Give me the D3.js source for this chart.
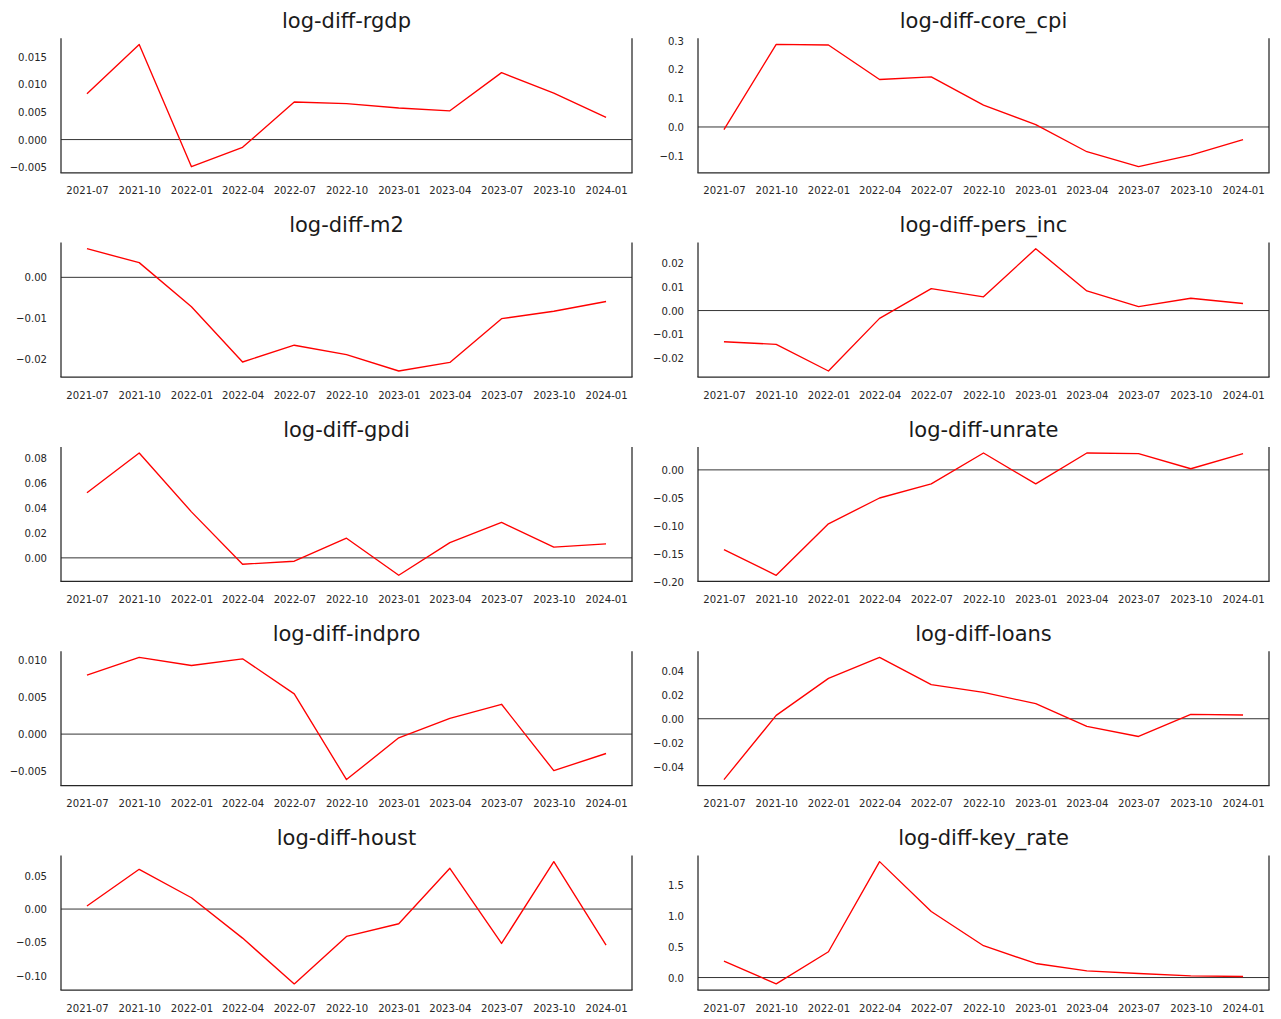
<!DOCTYPE html>
<html>
<head>
<meta charset="utf-8">
<script src="https://cdn.jsdelivr.net/npm/d3@7"></script>
<style>
  html, body { margin: 0; padding: 0; background: #ffffff; }
  svg { display: block; font-family: "DejaVu Sans", sans-serif; }
</style>
</head>
<body>
<script>
// Quarterly observation dates and their axis labels
const quarters = ["2021-07-01", "2021-10-01", "2022-01-01", "2022-04-01", "2022-07-01", "2022-10-01",
                  "2023-01-01", "2023-04-01", "2023-07-01", "2023-10-01", "2024-01-01"];
const quarterLabels = ["2021-07", "2021-10", "2022-01", "2022-04", "2022-07", "2022-10",
                       "2023-01", "2023-04", "2023-07", "2023-10", "2024-01"];

// Log-differenced series, one value per quarter
const rgdp    = [0.0083, 0.0172, -0.0049, -0.0014, 0.0068, 0.0065, 0.0057, 0.0052, 0.0121, 0.0084, 0.0040];
const coreCpi = [-0.009, 0.287, 0.285, 0.165, 0.174, 0.076, 0.008, -0.086, -0.138, -0.098, -0.044];
const m2      = [0.0070, 0.0036, -0.0072, -0.0207, -0.0166, -0.0189, -0.0229, -0.0208, -0.0101, -0.0083, -0.0059];
const persInc = [-0.0132, -0.0143, -0.0256, -0.0033, 0.0093, 0.0058, 0.0262, 0.0083, 0.0017, 0.0052, 0.0030];
const gpdi    = [0.0524, 0.0843, 0.0370, -0.0051, -0.0027, 0.0158, -0.0140, 0.0123, 0.0285, 0.0086, 0.0113];
const unrate  = [-0.142, -0.1875, -0.096, -0.050, -0.025, 0.030, -0.025, 0.030, 0.029, 0.002, 0.029];
const indpro  = [0.0079, 0.0103, 0.0092, 0.0101, 0.0054, -0.0061, -0.0005, 0.0021, 0.0040, -0.0049, -0.0026];
const loans   = [-0.0508, 0.0028, 0.0337, 0.0513, 0.0285, 0.0220, 0.0126, -0.0064, -0.0148, 0.0036, 0.0031];
const houst   = [0.0045, 0.0598, 0.0170, -0.0437, -0.1126, -0.0412, -0.0221, 0.0613, -0.0518, 0.0714, -0.0543];
const keyRate = [0.266, -0.103, 0.418, 1.88, 1.07, 0.516, 0.228, 0.109, 0.065, 0.027, 0.016];

// Panel titles and y tick values
const titles = ["log-diff-rgdp", "log-diff-core_cpi", "log-diff-m2", "log-diff-pers_inc", "log-diff-gpdi",
                "log-diff-unrate", "log-diff-indpro", "log-diff-loans", "log-diff-houst", "log-diff-key_rate"];
const rgdpTicks    = [-0.005, 0, 0.005, 0.010, 0.015];
const coreCpiTicks = [-0.1, 0, 0.1, 0.2, 0.3];
const m2Ticks      = [-0.02, -0.01, 0];
const persIncTicks = [-0.02, -0.01, 0, 0.01, 0.02];
const gpdiTicks    = [0, 0.02, 0.04, 0.06, 0.08];
const unrateTicks  = [-0.20, -0.15, -0.10, -0.05, 0];
const indproTicks  = [-0.005, 0, 0.005, 0.010];
const loansTicks   = [-0.04, -0.02, 0, 0.02, 0.04];
const houstTicks   = [-0.10, -0.05, 0, 0.05];
const keyRateTicks = [0, 0.5, 1.0, 1.5];

const panels = [
  { values: rgdp,    ticks: rgdpTicks,    fmt: ".3f" },
  { values: coreCpi, ticks: coreCpiTicks, fmt: ".1f" },
  { values: m2,      ticks: m2Ticks,      fmt: ".2f" },
  { values: persInc, ticks: persIncTicks, fmt: ".2f" },
  { values: gpdi,    ticks: gpdiTicks,    fmt: ".2f" },
  { values: unrate,  ticks: unrateTicks,  fmt: ".2f" },
  { values: indpro,  ticks: indproTicks,  fmt: ".3f" },
  { values: loans,   ticks: loansTicks,   fmt: ".2f" },
  { values: houst,   ticks: houstTicks,   fmt: ".2f" },
  { values: keyRate, ticks: keyRateTicks, fmt: ".1f" }
].map((p, i) => Object.assign(p, { title: titles[i] }));

// Figure geometry
const W = 1281, H = 1019;
const colLeft = [61, 698];
const axW = 571, axH = 134.5;
const rowTop0 = 38.3, rowStep = 204.3;
const tickFont = 11, tickSX = 0.92;
const ink = "#262626";

const dates = quarters.map(s => new Date(s + "T00:00:00Z"));

const svg = d3.select("body").append("svg")
  .attr("width", W).attr("height", H);

// Pad an extent by 5% on each side
function padded(lo, hi) {
  const m = (hi - lo) * 0.05;
  return [lo - m, hi + m];
}

panels.forEach((p, i) => {
  const col = i % 2, row = Math.floor(i / 2);
  const left = colLeft[col];
  const top = rowTop0 + row * rowStep;

  const x = d3.scaleUtc()
    .domain(padded(+dates[0], +dates[dates.length - 1]).map(t => new Date(t)))
    .range([0, axW]);
  const yExt = d3.extent(p.values.concat([0]));
  const y = d3.scaleLinear().domain(padded(yExt[0], yExt[1])).range([axH, 0]);

  const g = svg.append("g").attr("transform", `translate(${left},${top})`);

  // Title
  g.append("text")
    .attr("x", axW / 2).attr("y", -10.3)
    .attr("text-anchor", "middle")
    .attr("font-size", 21)
    .attr("fill", "#1a1a1a")
    .text(p.title);

  // Horizontal zero reference
  g.append("line")
    .attr("x1", 0).attr("x2", axW)
    .attr("y1", y(0)).attr("y2", y(0))
    .attr("stroke", "#000").attr("stroke-width", 0.8);

  // Series line
  const line = d3.line()
    .x((d, k) => x(dates[k]))
    .y(d => y(d));
  g.append("path")
    .datum(p.values)
    .attr("d", line)
    .attr("fill", "none")
    .attr("stroke", "#ff0000")
    .attr("stroke-width", 1.35)
    .attr("stroke-linejoin", "round");

  // Y axis labels
  const yAxis = g.append("g").call(
    d3.axisLeft(y).tickValues(p.ticks).tickFormat(d3.format(p.fmt)).tickSize(0).tickPadding(14)
  );
  yAxis.select(".domain").remove();
  yAxis.selectAll("text")
    .attr("font-size", tickFont)
    .attr("font-family", "DejaVu Sans")
    .attr("fill", ink)
    .attr("x", -14 / tickSX)
    .attr("transform", `scale(${tickSX},1)`);

  // X axis labels
  const xAxis = g.append("g").attr("transform", `translate(0,${axH})`).call(
    d3.axisBottom(x).tickValues(dates).tickFormat((d, k) => quarterLabels[k]).tickSize(0).tickPadding(13.8)
  );
  xAxis.select(".domain").remove();
  xAxis.selectAll("text")
    .attr("font-size", tickFont)
    .attr("font-family", "DejaVu Sans")
    .attr("fill", ink)
    .attr("transform", `scale(${tickSX},1)`);

  // Spines: left, right, bottom
  const sp = g.append("g").attr("stroke", ink).attr("stroke-width", 1.25);
  sp.append("line").attr("x1", 0).attr("x2", 0).attr("y1", 0).attr("y2", axH);
  sp.append("line").attr("x1", axW).attr("x2", axW).attr("y1", 0).attr("y2", axH);
  sp.append("line").attr("x1", -0.6).attr("x2", axW + 0.6).attr("y1", axH).attr("y2", axH);
});
</script>
</body>
</html>
